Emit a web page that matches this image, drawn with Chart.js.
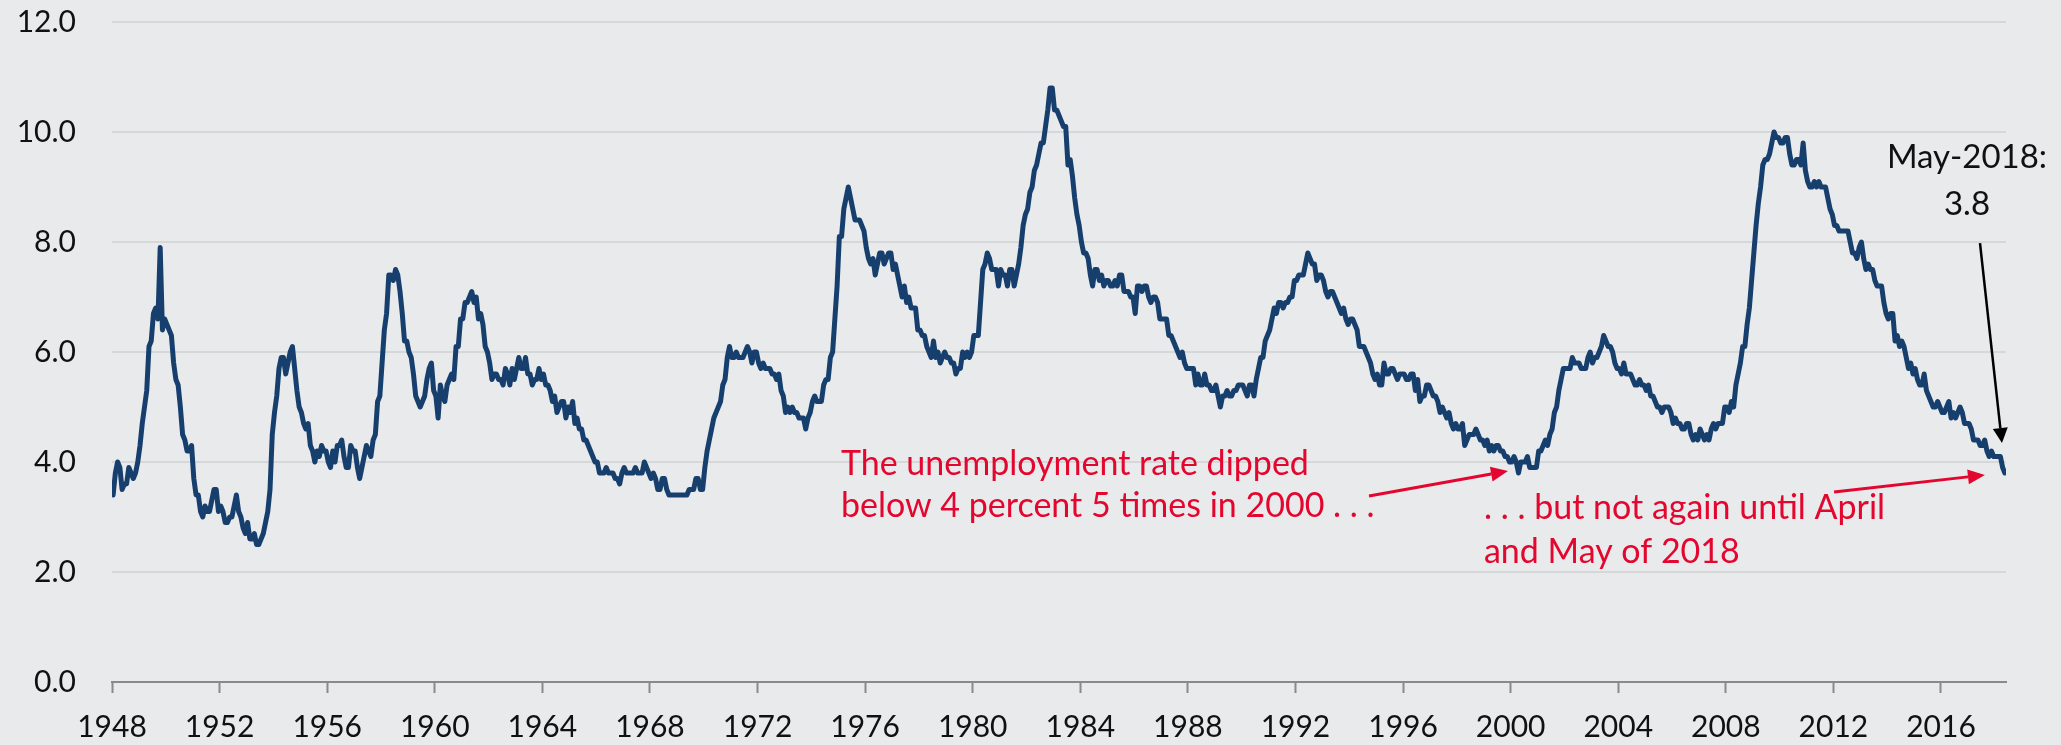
<!DOCTYPE html>
<html>
<head>
<meta charset="utf-8">
<script src="https://cdn.jsdelivr.net/npm/chart.js@4/dist/chart.umd.min.js"></script>
<style>
html,body{margin:0;padding:0;background:#e9eaec;}
canvas{display:block;}
</style>
</head>
<body>
<canvas id="c" width="2061" height="745"></canvas>
<script>
// Monthly civilian unemployment rate, percent, Jan 1948 - May 2018
const startYear = 1948;
const y1948 = [3.4,3.8,4.0,3.9,3.5,3.6,3.6,3.9,3.8,3.7,3.8,4.0];
const y1949 = [4.3,4.7,5.0,5.3,6.1,6.2,6.7,6.8,6.6,7.9,6.4,6.6];
const y1950 = [6.5,6.4,6.3,5.8,5.5,5.4,5.0,4.5,4.4,4.2,4.2,4.3];
const y1951 = [3.7,3.4,3.4,3.1,3.0,3.2,3.1,3.1,3.3,3.5,3.5,3.1];
const y1952 = [3.2,3.1,2.9,2.9,3.0,3.0,3.2,3.4,3.1,3.0,2.8,2.7];
const y1953 = [2.9,2.6,2.6,2.7,2.5,2.5,2.6,2.7,2.9,3.1,3.5,4.5];
const y1954 = [4.9,5.2,5.7,5.9,5.9,5.6,5.8,6.0,6.1,5.7,5.3,5.0];
const y1955 = [4.9,4.7,4.6,4.7,4.3,4.2,4.0,4.2,4.1,4.3,4.2,4.2];
const y1956 = [4.0,3.9,4.2,4.0,4.3,4.3,4.4,4.1,3.9,3.9,4.3,4.2];
const y1957 = [4.2,3.9,3.7,3.9,4.1,4.3,4.2,4.1,4.4,4.5,5.1,5.2];
const y1958 = [5.8,6.4,6.7,7.4,7.4,7.3,7.5,7.4,7.1,6.7,6.2,6.2];
const y1959 = [6.0,5.9,5.6,5.2,5.1,5.0,5.1,5.2,5.5,5.7,5.8,5.3];
const y1960 = [5.2,4.8,5.4,5.2,5.1,5.4,5.5,5.6,5.5,6.1,6.1,6.6];
const y1961 = [6.6,6.9,6.9,7.0,7.1,6.9,7.0,6.6,6.7,6.5,6.1,6.0];
const y1962 = [5.8,5.5,5.6,5.6,5.5,5.5,5.4,5.7,5.6,5.4,5.7,5.5];
const y1963 = [5.7,5.9,5.7,5.7,5.9,5.6,5.6,5.4,5.5,5.5,5.7,5.5];
const y1964 = [5.6,5.4,5.4,5.3,5.1,5.2,4.9,5.0,5.1,5.1,4.8,5.0];
const y1965 = [4.9,5.1,4.7,4.8,4.6,4.6,4.4,4.4,4.3,4.2,4.1,4.0];
const y1966 = [4.0,3.8,3.8,3.8,3.9,3.8,3.8,3.8,3.7,3.7,3.6,3.8];
const y1967 = [3.9,3.8,3.8,3.8,3.8,3.9,3.8,3.8,3.8,4.0,3.9,3.8];
const y1968 = [3.7,3.8,3.7,3.5,3.5,3.7,3.7,3.5,3.4,3.4,3.4,3.4];
const y1969 = [3.4,3.4,3.4,3.4,3.4,3.5,3.5,3.5,3.7,3.7,3.5,3.5];
const y1970 = [3.9,4.2,4.4,4.6,4.8,4.9,5.0,5.1,5.4,5.5,5.9,6.1];
const y1971 = [5.9,5.9,6.0,5.9,5.9,5.9,6.0,6.1,6.0,5.8,6.0,6.0];
const y1972 = [5.8,5.7,5.8,5.7,5.7,5.7,5.6,5.6,5.5,5.6,5.3,5.2];
const y1973 = [4.9,5.0,4.9,5.0,4.9,4.9,4.8,4.8,4.8,4.6,4.8,4.9];
const y1974 = [5.1,5.2,5.1,5.1,5.1,5.4,5.5,5.5,5.9,6.0,6.6,7.2];
const y1975 = [8.1,8.1,8.6,8.8,9.0,8.8,8.6,8.4,8.4,8.4,8.3,8.2];
const y1976 = [7.9,7.7,7.6,7.7,7.4,7.6,7.8,7.8,7.6,7.7,7.8,7.8];
const y1977 = [7.5,7.6,7.4,7.2,7.0,7.2,6.9,7.0,6.8,6.8,6.8,6.4];
const y1978 = [6.4,6.3,6.3,6.1,6.0,5.9,6.2,5.9,6.0,5.8,5.9,6.0];
const y1979 = [5.9,5.9,5.8,5.8,5.6,5.7,5.7,6.0,5.9,6.0,5.9,6.0];
const y1980 = [6.3,6.3,6.3,6.9,7.5,7.6,7.8,7.7,7.5,7.5,7.5,7.2];
const y1981 = [7.5,7.4,7.4,7.2,7.5,7.5,7.2,7.4,7.6,7.9,8.3,8.5];
const y1982 = [8.6,8.9,9.0,9.3,9.4,9.6,9.8,9.8,10.1,10.4,10.8,10.8];
const y1983 = [10.4,10.4,10.3,10.2,10.1,10.1,9.4,9.5,9.2,8.8,8.5,8.3];
const y1984 = [8.0,7.8,7.8,7.7,7.4,7.2,7.5,7.5,7.3,7.4,7.2,7.3];
const y1985 = [7.3,7.2,7.2,7.3,7.2,7.4,7.4,7.1,7.1,7.1,7.0,7.0];
const y1986 = [6.7,7.2,7.2,7.1,7.2,7.2,7.0,6.9,7.0,7.0,6.9,6.6];
const y1987 = [6.6,6.6,6.6,6.3,6.3,6.2,6.1,6.0,5.9,6.0,5.8,5.7];
const y1988 = [5.7,5.7,5.7,5.4,5.6,5.4,5.4,5.6,5.4,5.4,5.3,5.3];
const y1989 = [5.4,5.2,5.0,5.2,5.2,5.3,5.2,5.2,5.3,5.3,5.4,5.4];
const y1990 = [5.4,5.3,5.2,5.4,5.4,5.2,5.5,5.7,5.9,5.9,6.2,6.3];
const y1991 = [6.4,6.6,6.8,6.7,6.9,6.9,6.8,6.9,6.9,7.0,7.0,7.3];
const y1992 = [7.3,7.4,7.4,7.4,7.6,7.8,7.7,7.6,7.6,7.3,7.4,7.4];
const y1993 = [7.3,7.1,7.0,7.1,7.1,7.0,6.9,6.8,6.7,6.8,6.6,6.5];
const y1994 = [6.6,6.6,6.5,6.4,6.1,6.1,6.1,6.0,5.9,5.8,5.6,5.5];
const y1995 = [5.6,5.4,5.4,5.8,5.6,5.6,5.7,5.7,5.6,5.5,5.6,5.6];
const y1996 = [5.6,5.5,5.5,5.6,5.6,5.3,5.5,5.1,5.2,5.2,5.4,5.4];
const y1997 = [5.3,5.2,5.2,5.1,4.9,5.0,4.9,4.8,4.9,4.7,4.6,4.7];
const y1998 = [4.6,4.6,4.7,4.3,4.4,4.5,4.5,4.5,4.6,4.5,4.4,4.4];
const y1999 = [4.3,4.4,4.2,4.3,4.2,4.3,4.3,4.2,4.2,4.1,4.1,4.0];
const y2000 = [4.0,4.1,4.0,3.8,4.0,4.0,4.0,4.1,3.9,3.9,3.9,3.9];
const y2001 = [4.2,4.2,4.3,4.4,4.3,4.5,4.6,4.9,5.0,5.3,5.5,5.7];
const y2002 = [5.7,5.7,5.7,5.9,5.8,5.8,5.8,5.7,5.7,5.7,5.9,6.0];
const y2003 = [5.8,5.9,5.9,6.0,6.1,6.3,6.2,6.1,6.1,6.0,5.8,5.7];
const y2004 = [5.7,5.6,5.8,5.6,5.6,5.6,5.5,5.4,5.4,5.5,5.4,5.4];
const y2005 = [5.3,5.4,5.2,5.2,5.1,5.0,5.0,4.9,5.0,5.0,5.0,4.9];
const y2006 = [4.7,4.8,4.7,4.7,4.6,4.6,4.7,4.7,4.5,4.4,4.5,4.4];
const y2007 = [4.6,4.5,4.4,4.5,4.4,4.6,4.7,4.6,4.7,4.7,4.7,5.0];
const y2008 = [5.0,4.9,5.1,5.0,5.4,5.6,5.8,6.1,6.1,6.5,6.8,7.3];
const y2009 = [7.8,8.3,8.7,9.0,9.4,9.5,9.5,9.6,9.8,10.0,9.9,9.9];
const y2010 = [9.8,9.8,9.9,9.9,9.6,9.4,9.4,9.5,9.5,9.4,9.8,9.3];
const y2011 = [9.1,9.0,9.0,9.1,9.0,9.1,9.0,9.0,9.0,8.8,8.6,8.5];
const y2012 = [8.3,8.3,8.2,8.2,8.2,8.2,8.2,8.0,7.8,7.8,7.7,7.9];
const y2013 = [8.0,7.7,7.5,7.6,7.5,7.5,7.3,7.2,7.2,7.2,6.9,6.7];
const y2014 = [6.6,6.7,6.7,6.2,6.3,6.1,6.2,6.1,5.9,5.7,5.8,5.6];
const y2015 = [5.7,5.5,5.4,5.4,5.6,5.3,5.2,5.1,5.0,5.0,5.1,5.0];
const y2016 = [4.9,4.9,5.0,5.1,4.8,4.9,4.8,4.9,5.0,4.9,4.7,4.7];
const y2017 = [4.7,4.6,4.4,4.4,4.4,4.3,4.3,4.4,4.2,4.1,4.2,4.1];
const y2018 = [4.1,4.1,4.1,3.9,3.8];

const years = [y1948,y1949,y1950,y1951,y1952,y1953,y1954,y1955,y1956,y1957,
  y1958,y1959,y1960,y1961,y1962,y1963,y1964,y1965,y1966,y1967,
  y1968,y1969,y1970,y1971,y1972,y1973,y1974,y1975,y1976,y1977,
  y1978,y1979,y1980,y1981,y1982,y1983,y1984,y1985,y1986,y1987,
  y1988,y1989,y1990,y1991,y1992,y1993,y1994,y1995,y1996,y1997,
  y1998,y1999,y2000,y2001,y2002,y2003,y2004,y2005,y2006,y2007,
  y2008,y2009,y2010,y2011,y2012,y2013,y2014,y2015,y2016,y2017,y2018];

const monthNames = ['Jan','Feb','Mar','Apr','May','Jun','Jul','Aug','Sep','Oct','Nov','Dec'];
const categories = [];
const values = [];
years.forEach((arr, yi) => arr.forEach((v, mi) => {
  categories.push(monthNames[mi] + '-' + (startYear + yi));
  values.push(v);
}));

const xTickLabels = ['1948','1952','1956','1960','1964','1968','1972','1976','1980','1984','1988','1992','1996','2000','2004','2008','2012','2016'];
const yTicks = [0,2,4,6,8,10,12];

// Annotations (positions in data units: x = month index, y = percent)
const noteLeft = {lines:['The unemployment rate dipped','below 4 percent 5 times in 2000 . . .'], x:325.2, y:3.76};
const noteRight = {lines:['. . . but not again until April','and May of 2018'], x:612.1, y:2.96};
const noteLast = {lines:['May-2018:','3.8'], x:827.6, y:9.345};
const arrowsRed = [{x0:560.8,y0:3.382,x1:622.8,y1:3.836},{x0:768.3,y0:3.455,x1:835.6,y1:3.764}];
const arrowBlack = {x0:833.4,y0:7.98,x1:843.2,y1:4.345};

const FONT = 'Lato, "Source Sans Pro", "Open Sans", sans-serif';
const RED = '#e3062e';
const NAVY = '#173f6e';

function drawArrow(ctx, sx, sy, ex, ey, color, lw, hl, hw) {
  const ang = Math.atan2(ey - sy, ex - sx);
  const bx = ex - hl * Math.cos(ang), by = ey - hl * Math.sin(ang);
  ctx.save();
  ctx.strokeStyle = color; ctx.fillStyle = color; ctx.lineWidth = lw;
  ctx.beginPath(); ctx.moveTo(sx, sy); ctx.lineTo(bx, by); ctx.stroke();
  ctx.beginPath();
  ctx.moveTo(ex, ey);
  ctx.lineTo(bx + hw/2 * Math.sin(ang), by - hw/2 * Math.cos(ang));
  ctx.lineTo(bx - hw/2 * Math.sin(ang), by + hw/2 * Math.cos(ang));
  ctx.closePath(); ctx.fill();
  ctx.restore();
}

const bgPlugin = {
  id: 'bg',
  beforeDraw(chart) {
    const ctx = chart.ctx;
    ctx.save(); ctx.fillStyle = '#e9eaec';
    ctx.fillRect(0, 0, chart.width, chart.height); ctx.restore();
  }
};

const notesPlugin = {
  id: 'notes',
  afterDatasetsDraw(chart) {
    const ctx = chart.ctx, xs = chart.scales.x, ys = chart.scales.y;
    const px = v => xs.getPixelForValue(v), py = v => ys.getPixelForValue(v);
    ctx.save();
    ctx.textBaseline = 'alphabetic';
    ctx.font = '34px ' + FONT;
    ctx.fillStyle = RED; ctx.textAlign = 'left';
    noteLeft.lines.forEach((t, i) => ctx.fillText(t, px(noteLeft.x), py(noteLeft.y) + i * 42));
    noteRight.lines.forEach((t, i) => ctx.fillText(t, px(noteRight.x), py(noteRight.y) + i * 44));
    ctx.fillStyle = '#111'; ctx.textAlign = 'center';
    ctx.font = '33px ' + FONT;
    noteLast.lines.forEach((t, i) => ctx.fillText(t, px(noteLast.x), py(noteLast.y) + i * 47));
    ctx.restore();
    arrowsRed.forEach(a => drawArrow(ctx, px(a.x0), py(a.y0), px(a.x1), py(a.y1), RED, 3, 17, 15));
    drawArrow(ctx, px(arrowBlack.x0), py(arrowBlack.y0), px(arrowBlack.x1), py(arrowBlack.y1), '#000', 2.5, 15, 15);
  }
};

new Chart(document.getElementById('c'), {
  type: 'line',
  data: {
    labels: categories,
    datasets: [{
      data: values.map((v, i) => ({x: i + 0.5, y: v})),
      borderColor: NAVY,
      borderWidth: 5,
      pointRadius: 0,
      tension: 0,
      borderJoinStyle: 'round',
      borderCapStyle: 'round',
      fill: false
    }]
  },
  options: {
    responsive: false,
    devicePixelRatio: 1,
    animation: false,
    layout: {padding: {top: 22, right: 55, left: 0, bottom: 0}},
    plugins: {legend: {display: false}, tooltip: {enabled: false}},
    scales: {
      x: {
        type: 'linear',
        min: 0,
        max: values.length,
        afterBuildTicks(scale) { scale.ticks = xTickLabels.map((_, k) => ({value: k * 48})); },
        afterFit(scale) { scale.height = 63; scale.paddingLeft = 0; scale.paddingRight = 0; },
        ticks: {
          callback: (v) => xTickLabels[Math.round(v / 48)],
          font: {family: FONT, size: 30},
          color: '#111',
          padding: 16,
          maxRotation: 0,
          autoSkip: false
        },
        grid: {drawOnChartArea: false, drawTicks: true, tickLength: 11, tickColor: '#8a8a8a', tickWidth: 2},
        border: {display: true, color: '#8a8a8a', width: 2}
      },
      y: {
        min: 0,
        max: 12,
        afterBuildTicks(scale) { scale.ticks = yTicks.map(v => ({value: v})); },
        afterFit(scale) { scale.width = 112; scale.paddingTop = 0; scale.paddingBottom = 0; },
        ticks: {
          callback: (v) => Number(v).toFixed(1),
          font: {family: FONT, size: 30},
          color: '#111',
          padding: 36
        },
        grid: {color: '#d6d7d9', lineWidth: 2, drawTicks: false},
        border: {display: false}
      }
    }
  },
  plugins: [bgPlugin, notesPlugin]
});
</script>
</body>
</html>
